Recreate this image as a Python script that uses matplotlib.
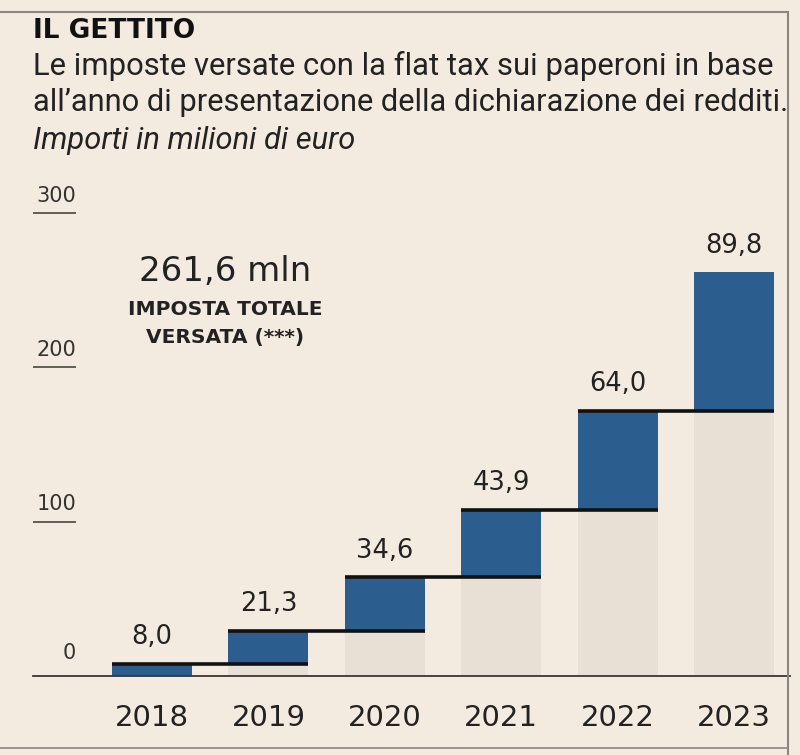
import numpy as np
import matplotlib.pyplot as plt
from matplotlib.lines import Line2D

# dati (milioni di euro)
years = ["2018", "2019", "2020", "2021", "2022", "2023"]
versato = [8.0, 21.3, 34.6, 43.9, 64.0, 89.8]
value_labels = ["8,0", "21,3", "34,6", "43,9", "64,0", "89,8"]
y_ticks = [100, 200, 300]
totale_label = "261,6 mln"

BG = "#f4ebe0"
GREY = "#e9e0d5"
BLUE = "#2b5d8e"
DARK = "#222222"
FRAME = "#8c8680"

W, H = 800, 755
fig = plt.figure(figsize=(W / 100, H / 100), dpi=100, facecolor=BG)


def fy(y):
    # pixel row -> figure fraction
    return 1 - y / H


def fit_width(t, width_px):
    r = fig.canvas.get_renderer()
    w = t.get_window_extent(r).width
    t.set_fontsize(t.get_fontsize() * width_px / w)


# plot area: x 33..790 px, baseline at 676 px
step = 116.4      # px between bars
scale = 1.544     # px per million
ax = fig.add_axes([33 / W, fy(676), (790 - 33) / W, (676 - 180) / H])
ax.set_facecolor(BG)
x0 = -(152 - 33) / step
ax.set_xlim(x0, (790 - 152) / step)
ax.set_ylim(0, (676 - 180) / scale)
for s in ax.spines.values():
    s.set_visible(False)
ax.set_xticks([])
ax.set_yticks([])

x = np.arange(len(years))
cum = np.cumsum(versato)
base = cum - np.array(versato)
bw = 80 / step

ax.bar(x, base, width=bw, color=GREY, zorder=1)
ax.bar(x, versato, bottom=base, width=bw, color=BLUE, zorder=2)

# connectors: top of each bar to the right edge of the next one
for i in range(len(years) - 1):
    ax.hlines(cum[i], x[i] - bw / 2, x[i + 1] + bw / 2, color="#111111", lw=2.6, zorder=3)

ax.axhline(0, color="#3a3633", lw=1.3, zorder=4, clip_on=False)

# y ticks as short underlines with labels above
x_tick_end = x0 + (76 - 33) / step
for v in y_ticks:
    ax.hlines(v, x0, x_tick_end, color="#3a3633", lw=1.1)
    ax.annotate(str(v), (x_tick_end, v), xytext=(0, 8), textcoords="offset points",
                ha="right", va="baseline", fontsize=15, color="#333333")
ax.annotate("0", (x_tick_end, 0), xytext=(0, 12), textcoords="offset points",
            ha="right", va="baseline", fontsize=15, color="#333333")

for xi, c, lab, yr in zip(x, cum, value_labels, years):
    ax.annotate(lab, (xi, c), xytext=(0, 14), textcoords="offset points",
                ha="center", va="baseline", fontsize=18.5, color=DARK)
    ax.annotate(yr, (xi, 0), xytext=(0, -36), textcoords="offset points",
                ha="center", va="baseline", fontsize=21, color=DARK)

# totale
fig.text(225 / W, fy(281), totale_label, ha="center", va="baseline", fontsize=24.5, color=DARK)
fig.text(225 / W, fy(315), "IMPOSTA TOTALE", ha="center", va="baseline",
         fontsize=14.5, fontweight="bold", color=DARK)
fig.text(225 / W, fy(343), "VERSATA (***)", ha="center", va="baseline",
         fontsize=14.5, fontweight="bold", color=DARK)

# titoli
fig.text(33 / W, fy(38), "IL GETTITO", fontsize=19, fontweight="bold", color="#111111", va="baseline")
t1 = fig.text(33 / W, fy(75), "Le imposte versate con la flat tax sui paperoni in base",
              fontsize=20, family="Roboto", color=DARK, va="baseline")
t2 = fig.text(33 / W, fy(111), "all\u2019anno di presentazione della dichiarazione dei redditi.",
              fontsize=20, family="Roboto", color=DARK, va="baseline")
t3 = fig.text(33 / W, fy(149), "Importi in milioni di euro",
              fontsize=20, family="Roboto", style="italic", color=DARK, va="baseline")
fit_width(t1, 737)
fit_width(t2, 754)
fit_width(t3, 322)

# cornice
fig.add_artist(Line2D([0, 788 / W], [fy(12), fy(12)], color=FRAME, lw=1.5))
fig.add_artist(Line2D([788 / W, 788 / W], [fy(12), 0], color=FRAME, lw=1.5))
fig.add_artist(Line2D([0, 788 / W], [fy(748), fy(748)], color=FRAME, lw=1.2))

fig.savefig("out.png", dpi=100, facecolor=BG)
